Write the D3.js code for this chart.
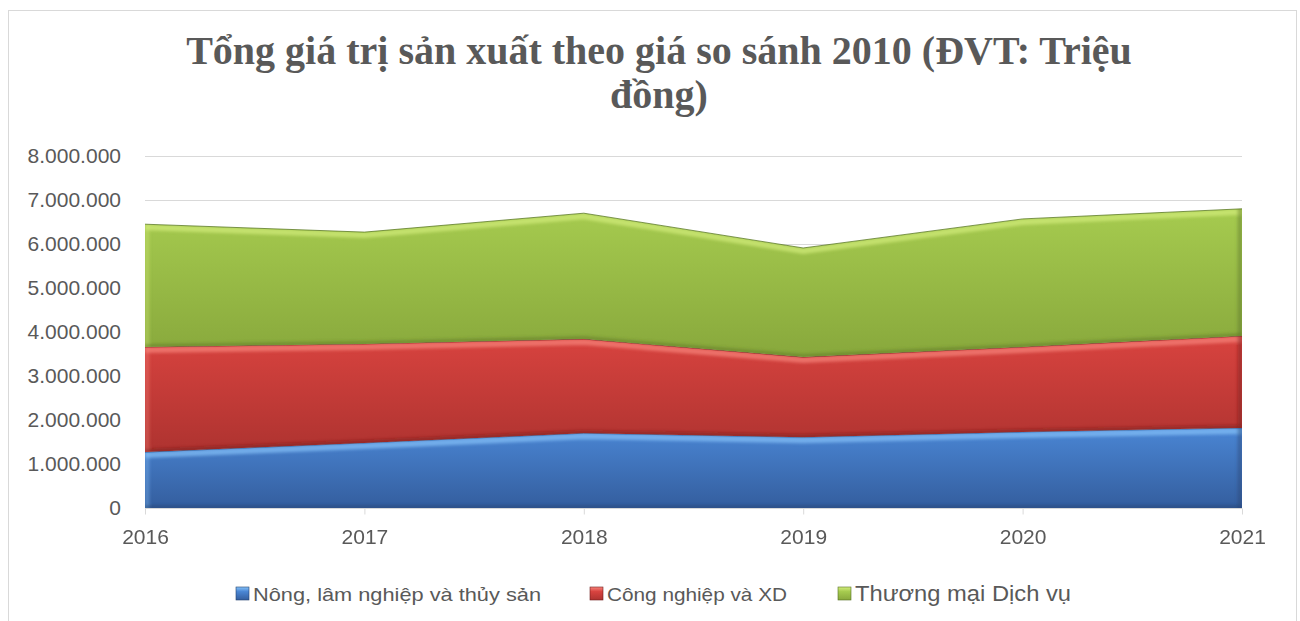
<!DOCTYPE html>
<html>
<head>
<meta charset="utf-8">
<script src="https://cdn.jsdelivr.net/npm/d3@7"></script>
<style>
  body { margin: 0; background: #fff; }
  svg { display: block; }
</style>
</head>
<body>
<div id="chart"></div>
<script>
// data
let years = ["2016", "2017", "2018", "2019", "2020", "2021"];
let nong_lam = [1270000, 1480000, 1700000, 1610000, 1730000, 1820000];
let cong_nghiep = [2390000, 2250000, 2140000, 1820000, 1930000, 2090000];
let thuong_mai = [2790000, 2540000, 2860000, 2480000, 2910000, 2890000];
let series_names = ["Nông, lâm nghiệp và thủy sản", "Công nghiệp và XD", "Thương mại Dịch vụ"];
let y_ticks = [0, 1000000, 2000000, 3000000, 4000000, 5000000, 6000000, 7000000, 8000000];

function series_style(i) {
    if (i == 0) {
        return {top: "#4a86d4", bottom: "#345e9e", light: "#86c2f8", dark: "#23426f", edge: "#2c5288"}
    } else if (i == 1) {
        return {top: "#d8433f", bottom: "#ae3330", light: "#f7857c", dark: "#6e1d1b", edge: "#7a2220"}
    }
    return {top: "#a6cb4f", bottom: "#88a83c", light: "#d3ec7c", dark: "#566f22", edge: "#5d7a27"}
}

let width = 1300, height = 621;
let margin = {left: 145, right: 58, top: 156, bottom: 113};

let svg = d3.select("#chart")
    .append("svg")
    .attr("width", width)
    .attr("height", height);

// chart frame
svg.append("rect")
    .attr("x", 8.5).attr("y", 10.5)
    .attr("width", 1288).attr("height", 640)
    .attr("fill", "#fff")
    .attr("stroke", "#d9d9d9");

let x = d3.scalePoint()
    .domain(years)
    .range([margin.left, width - margin.right]);

let y = d3.scaleLinear()
    .domain([0, 8000000])
    .range([height - margin.bottom, margin.top]);

let fmt = d => d3.format(",")(d).replace(/,/g, ".");

// title
let title = svg.append("text")
    .attr("text-anchor", "middle")
    .attr("font-family", "'Liberation Serif', 'Times New Roman', serif")
    .attr("font-weight", "bold")
    .attr("font-size", 40)
    .attr("fill", "#595959");
title.append("tspan").attr("x", 659).attr("y", 64).text("Tổng giá trị sản xuất theo giá so sánh 2010 (ĐVT: Triệu");
title.append("tspan").attr("x", 659).attr("y", 108).text("đồng)");

// gridlines
svg.append("g")
    .selectAll("line")
    .data(y_ticks.filter(d => d > 0))
    .join("line")
    .attr("x1", margin.left).attr("x2", width - margin.right)
    .attr("y1", d => Math.round(y(d)) + 0.5).attr("y2", d => Math.round(y(d)) + 0.5)
    .attr("stroke", "#d9d9d9");

// y axis labels
let yAxis = svg.append("g")
    .attr("transform", `translate(${margin.left - 24},0)`)
    .call(d3.axisLeft(y).tickValues(y_ticks).tickFormat(fmt).tickSize(0).tickPadding(0));
yAxis.select(".domain").remove();
yAxis.selectAll("text")
    .attr("font-family", "'Liberation Sans', Arial, sans-serif")
    .attr("font-size", 21)
    .attr("fill", "#595959");

// stacked areas
let table = years.map((yr, i) => ({year: yr, a: nong_lam[i], b: cong_nghiep[i], c: thuong_mai[i]}));
let stack = d3.stack().keys(["a", "b", "c"]);
let layers = stack(table);

let defs = svg.append("defs");
defs.append("filter")
    .attr("id", "soft")
    .attr("x", "-5%").attr("y", "-50%").attr("width", "110%").attr("height", "200%")
    .append("feGaussianBlur")
    .attr("stdDeviation", 1.6);

let area = d3.area()
    .x(d => x(d.data.year))
    .y0(d => y(d[0]))
    .y1(d => y(d[1]));
let topLine = d3.line().x(d => x(d.data.year)).y(d => y(d[1]));
let baseLine = d3.line().x(d => x(d.data.year)).y(d => y(d[0]));

let x0 = x(years[0]), x1 = x(years[years.length - 1]);

layers.forEach((layer, i) => {
    let s = series_style(i);
    let grad = defs.append("linearGradient")
        .attr("id", "grad" + i)
        .attr("x1", 0).attr("y1", 0).attr("x2", 0).attr("y2", 1);
    grad.append("stop").attr("offset", "0%").attr("stop-color", s.top);
    grad.append("stop").attr("offset", "100%").attr("stop-color", s.bottom);

    defs.append("clipPath")
        .attr("id", "clip" + i)
        .append("path")
        .attr("d", area(layer));

    let g = svg.append("g").attr("clip-path", `url(#clip${i})`);

    g.append("path")
        .attr("d", area(layer))
        .attr("fill", `url(#grad${i})`);

    let bevel = g.append("g").attr("filter", "url(#soft)");

    // light band along the top and the left side
    bevel.append("path")
        .attr("d", topLine(layer))
        .attr("transform", "translate(0,3)")
        .attr("fill", "none")
        .attr("stroke", s.light)
        .attr("stroke-width", 6)
        .attr("opacity", 0.7);
    bevel.append("line")
        .attr("x1", x0 + 2).attr("x2", x0 + 2)
        .attr("y1", 0).attr("y2", height)
        .attr("stroke", s.light)
        .attr("stroke-width", 5)
        .attr("opacity", 0.35);

    // darker band along the bottom and the right side
    bevel.append("path")
        .attr("d", baseLine(layer))
        .attr("transform", "translate(0,-1)")
        .attr("fill", "none")
        .attr("stroke", s.dark)
        .attr("stroke-width", 4)
        .attr("opacity", 0.45);
    bevel.append("line")
        .attr("x1", x1 - 2).attr("x2", x1 - 2)
        .attr("y1", 0).attr("y2", height)
        .attr("stroke", s.dark)
        .attr("stroke-width", 5)
        .attr("opacity", 0.4);

    // thin outline on the top edge
    svg.append("path")
        .attr("d", topLine(layer))
        .attr("fill", "none")
        .attr("stroke", s.edge)
        .attr("stroke-width", 1)
        .attr("opacity", 0.8);
});

// x axis
let xAxis = svg.append("g")
    .attr("transform", `translate(0,${y(0) + 0.5})`)
    .call(d3.axisBottom(x).tickSize(6).tickPadding(15));
xAxis.select(".domain").attr("stroke", "#d9d9d9").attr("d", `M${x0},0H${x1}`);
xAxis.selectAll(".tick line").attr("stroke", "#d9d9d9");
xAxis.selectAll("text")
    .attr("font-family", "'Liberation Sans', Arial, sans-serif")
    .attr("font-size", 21)
    .attr("fill", "#595959");

// legend
let legend_x = [236, 590, 838];
let legend_w = [288, 180, 216];
let legend_fs = [19, 19, 22];
let legend = svg.append("g")
    .selectAll("g")
    .data(series_names)
    .join("g")
    .attr("transform", (d, i) => `translate(${legend_x[i]},587)`);

legend.each(function(d, i) {
    let s = series_style(i);
    let lg = defs.append("linearGradient")
        .attr("id", "lgrad" + i)
        .attr("x1", 0).attr("y1", 0).attr("x2", 0).attr("y2", 1);
    lg.append("stop").attr("offset", "0%").attr("stop-color", s.light);
    lg.append("stop").attr("offset", "35%").attr("stop-color", s.top);
    lg.append("stop").attr("offset", "100%").attr("stop-color", s.bottom);
});

legend.append("rect")
    .attr("width", 13).attr("height", 13)
    .attr("fill", (d, i) => `url(#lgrad${i})`)
    .attr("stroke", (d, i) => series_style(i).dark)
    .attr("stroke-width", 0.6);

legend.append("text")
    .attr("x", 17)
    .attr("y", 14)
    .attr("font-family", "'Liberation Sans', Arial, sans-serif")
    .attr("font-size", (d, i) => legend_fs[i])
    .attr("textLength", (d, i) => legend_w[i])
    .attr("lengthAdjust", "spacingAndGlyphs")
    .attr("fill", "#595959")
    .text(d => d);
</script>
</body>
</html>
